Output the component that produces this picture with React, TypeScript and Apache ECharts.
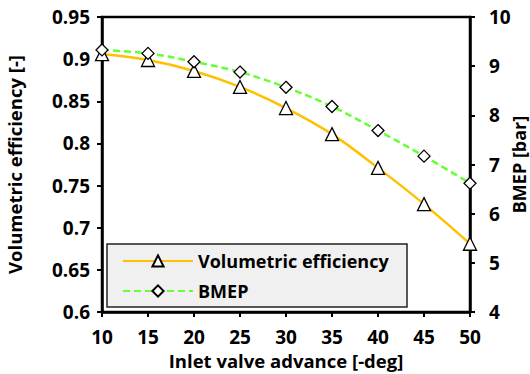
import React, { useEffect, useRef } from "react";
import * as echarts from "echarts";

const advance = [10, 15, 20, 25, 30, 35, 40, 45, 50];
const volEff = [0.906, 0.899, 0.886, 0.867, 0.842, 0.811, 0.771, 0.728, 0.681];
const bmep = [9.33, 9.26, 9.09, 8.88, 8.57, 8.18, 7.69, 7.17, 6.62];

const FONT = "Open Sans";

export default function App() {
  const ref = useRef<HTMLDivElement>(null);
  useEffect(() => {
    if (!ref.current) return;
    const chart = echarts.init(ref.current, undefined, { renderer: "svg" });
    const axisCommon = {
      axisLine: { show: true, lineStyle: { color: "#000", width: 2.5 } },
      axisTick: { show: true, inside: false, length: 5, lineStyle: { color: "#000", width: 2 } },
      splitLine: { show: false },
      nameLocation: "middle" as const,
      nameTextStyle: { fontFamily: FONT, fontWeight: "bold" as const, fontSize: 18.5, color: "#000" },
    };
    const labelStyle = { fontFamily: FONT, fontWeight: "bold" as const, fontSize: 19, color: "#000" };
    chart.setOption({
      animation: false,
      textStyle: { fontFamily: FONT },
      grid: {
        left: 102,
        right: 60,
        top: 17,
        bottom: 62,
        outerBoundsMode: "none",
        containLabel: false,
        show: true,
        borderColor: "#000",
        borderWidth: 2.5,
        backgroundColor: "transparent",
      },
      graphic: [
        {
          type: "rect",
          z: 3,
          shape: { x: 107, y: 244, width: 300, height: 63 },
          style: { fill: "#f0f0f0", stroke: "#222", lineWidth: 1.5 },
        },
      ],
      legend: {
        left: 117,
        top: 247,
        orient: "vertical",
        itemWidth: 70,
        itemHeight: 14,
        itemGap: 12,
        z: 5,
        textStyle: { fontFamily: FONT, fontWeight: "bold", fontSize: 18, color: "#000" },
        data: ["Volumetric efficiency", "BMEP"],
      },
      xAxis: {
        type: "value",
        min: 10,
        max: 50,
        interval: 5,
        name: "Inlet valve advance [-deg]",
        nameGap: 31,
        ...axisCommon,
        axisLabel: { ...labelStyle, margin: 15 },
      },
      yAxis: [
        {
          type: "value",
          min: 0.6,
          max: 0.95,
          interval: 0.05,
          name: "Volumetric efficiency [-]",
          nameGap: 78,
          ...axisCommon,
          axisLabel: {
            ...labelStyle,
            margin: 12,
            formatter: (v: number) => String(Number(v.toFixed(2))),
          },
        },
        {
          type: "value",
          min: 4,
          max: 10,
          interval: 1,
          position: "right",
          name: "BMEP [bar]",
          nameGap: 40,
          nameRotate: 90,
          nameMoveOverlap: false,
          ...axisCommon,
          nameTextStyle: { fontFamily: FONT, fontWeight: "bold" as const, fontSize: 18, color: "#000" },
          axisLabel: { ...labelStyle, margin: 19 },
        },
      ],
      series: [
        {
          name: "Volumetric efficiency",
          type: "line",
          yAxisIndex: 0,
          smooth: 0.35,
          data: advance.map((x, i) => [x, volEff[i]]),
          lineStyle: { color: "#FFC000", width: 2.5 },
          itemStyle: { color: "#fff", borderColor: "#000", borderWidth: 1.3 },
          symbol: "triangle",
          symbolSize: 13,
          z: 2,
        },
        {
          name: "BMEP",
          type: "line",
          yAxisIndex: 1,
          smooth: 0.35,
          data: advance.map((x, i) => [x, bmep[i]]),
          lineStyle: { color: "#66FF33", width: 2.5, type: [7, 4] },
          itemStyle: { color: "#fff", borderColor: "#000", borderWidth: 1.3 },
          symbol: "diamond",
          symbolSize: 12,
          z: 2,
        },
      ],
    });
    return () => chart.dispose();
  }, []);
  return <div ref={ref} style={{ width: 530, height: 374, position: "absolute", left: 0, top: 0 }} />;
}
